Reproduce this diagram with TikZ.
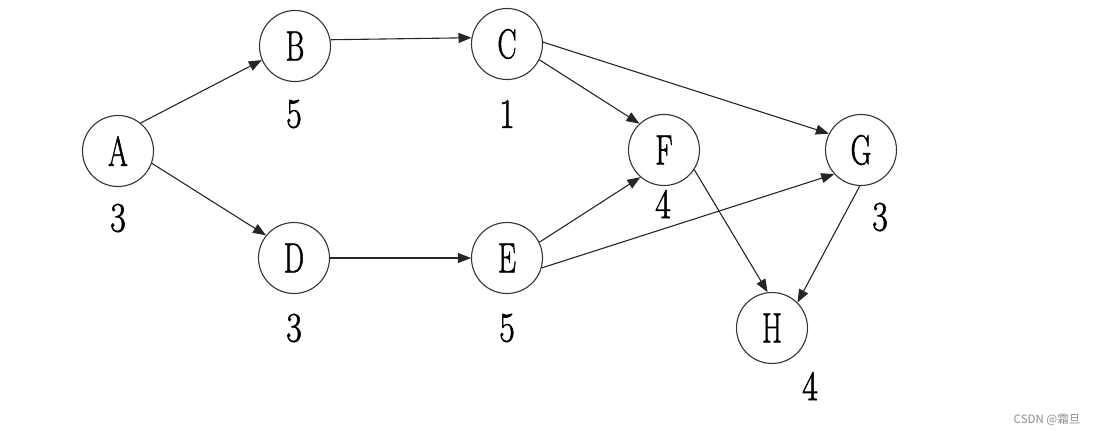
\documentclass[tikz,border=0pt]{standalone}
\usepackage{fontspec}
\newfontfamily\lmr{Latin Modern Roman}[FakeBold=1.6]
\newfontfamily\cjkfont{Noto Sans CJK SC}
\usetikzlibrary{arrows.meta}
\newcommand{\nx}[1]{\scalebox{0.68}[1]{#1}}
\newcommand{\dx}[1]{\scalebox{0.8}[1]{#1}}
\tikzset{
  vtx/.style={circle, draw=black!80, line width=1.1pt, minimum size=71pt, inner sep=0pt,
    font=\lmr\fontsize{42}{42}\selectfont},
  wlabel/.style={inner sep=0pt, font=\lmr\fontsize{42}{42}\selectfont},
  edge/.style={draw=black!85, line width=1.1pt, -{Triangle[length=13pt,width=10pt]}}
}
\begin{document}
\begin{tikzpicture}[x=1pt,y=-1pt]
\useasboundingbox (0,0) rectangle (1100,436);
\node[vtx] (A) at (118,151) {\nx{A}};
\node[vtx] (B) at (295,46) {\nx{B}};
\node[vtx] (C) at (507,44) {\nx{C}};
\node[vtx] (D) at (294,258) {\nx{D}};
\node[vtx] (E) at (507,258) {\nx{E}};
\node[vtx] (F) at (664,150) {\nx{F}};
\node[vtx] (G) at (861,150) {\nx{G}};
\node[vtx] (H) at (772,328) {\nx{H}};
\node[wlabel] (lA) at (118,218) {\dx{3}};
\node[wlabel] (lB) at (294,114) {\dx{5}};
\node[wlabel] (lC) at (507,114) {\dx{1}};
\node[wlabel] (lD) at (294,328) {\dx{3}};
\node[wlabel] (lE) at (507,328) {\dx{5}};
\node[wlabel] (lF) at (663,204) {\dx{4}};
\node[wlabel] (lG) at (880,217) {\dx{3}};
\node[wlabel] (lH) at (810,386) {\dx{4}};
\draw[edge] (A.51) -- (B.203);
\draw[edge] (A.-20) -- (D.141);
\draw[edge] (B.10) -- (C.170);
\draw[edge] (D.east) -- (E.west);
\draw[edge] (C.-26) -- (F.133);
\draw[edge] (C.3) -- (G.153);
\draw[edge] (E.26) -- (F.229);
\draw[edge] (E.-16) -- (G.222);
\draw[edge] (F.-33) -- (H.97);
\draw[edge] (G.-92) -- (H.45);
\node[inner sep=0pt, text=black!45, font=\cjkfont\fontsize{11.5}{12}\selectfont] (wm) at (1047,420) {CSDN @霜旦};
\end{tikzpicture}
\end{document}
